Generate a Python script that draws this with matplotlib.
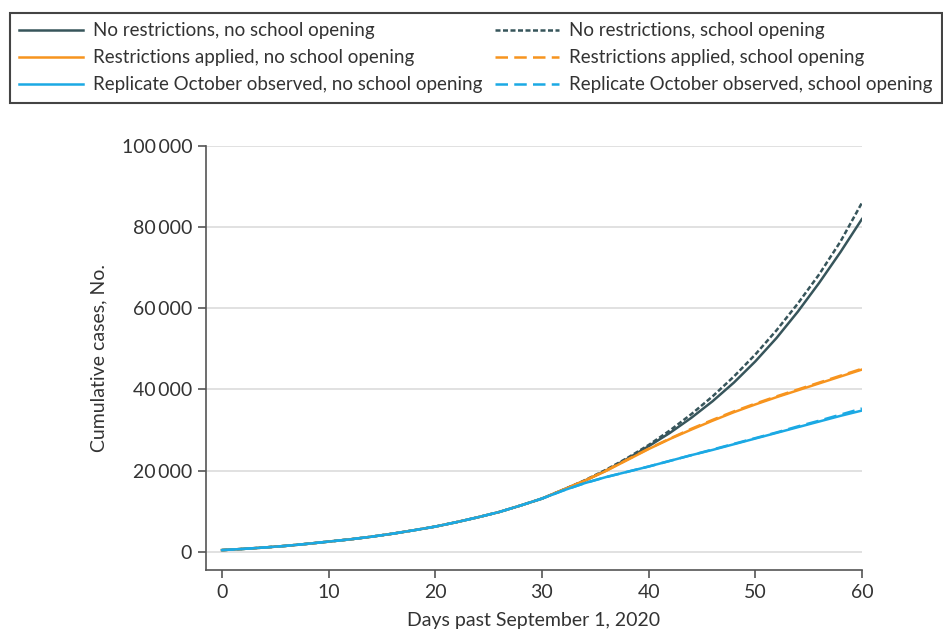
import matplotlib
matplotlib.use("Agg")
import matplotlib.pyplot as plt
from matplotlib.ticker import FuncFormatter

plt.rcParams['font.family'] = ['Lato', 'DejaVu Sans']

days = list(range(0, 61, 2))

# days 0-30, all scenarios share the same curve
shared = [400, 700, 1050, 1450, 1950, 2500, 3050, 3700, 4450, 5300,
          6200, 7300, 8500, 9800, 11400, 13100]

# days 32-60
none_no_school = [15300, 17500, 20000, 22900, 26000, 29300, 33000, 37100,
                  41700, 46900, 52700, 59200, 66300, 73900, 82000]
none_school = [15300, 17600, 20200, 23100, 26300, 29900, 33900, 38300,
               43200, 48600, 54600, 61200, 68400, 76500, 86000]
restr_no_school = [15300, 17500, 19900, 22600, 25300, 27800, 30100, 32300,
                   34400, 36300, 38100, 39800, 41500, 43200, 44900]
restr_school = [15300, 17500, 20000, 22700, 25400, 27900, 30300, 32500,
                34600, 36500, 38300, 40000, 41700, 43400, 45100]
oct_no_school = [15100, 16900, 18400, 19700, 21000, 22400, 23800, 25100,
                 26500, 27900, 29300, 30700, 32100, 33500, 34800]
oct_school = [15100, 16900, 18400, 19700, 21000, 22400, 23800, 25200,
              26600, 28000, 29400, 30900, 32300, 33800, 35300]

labels = ["No restrictions, no school opening",
          "Restrictions applied, no school opening",
          "Replicate October observed, no school opening",
          "No restrictions, school opening",
          "Restrictions applied, school opening",
          "Replicate October observed, school opening"]

dark = '#37555b'
orange = '#f7941e'
blue = '#1ba9e4'
text_col = '#333333'

fig = plt.figure(figsize=(9.43, 6.38), dpi=100)
ax = fig.add_axes([0.2185, 0.1066, 0.6955, 0.6645])

lw = 1.8
h1, = ax.plot(days, shared + none_no_school, color=dark, lw=lw)
h4, = ax.plot(days, shared + none_school, color=dark, lw=lw, dashes=(2.0, 1.0))
h2, = ax.plot(days, shared + restr_no_school, color=orange, lw=lw)
h5, = ax.plot(days, shared + restr_school, color=orange, lw=lw, dashes=(5, 2.5))
h3, = ax.plot(days, shared + oct_no_school, color=blue, lw=lw)
h6, = ax.plot(days, shared + oct_school, color=blue, lw=lw, dashes=(5, 2.5))

ax.set_xlim(-1.5, 60)
ax.set_ylim(-4500, 100000)
ax.set_xticks(range(0, 61, 10))
ax.set_yticks(range(0, 100001, 20000))
ax.yaxis.set_major_formatter(FuncFormatter(
    lambda v, p: "{:,}".format(int(v)).replace(",", "\u2009")))

ax.grid(axis='y', color='#dcdcdc', lw=1.2)
ax.set_axisbelow(True)
for s in ['top', 'right']:
    ax.spines[s].set_visible(False)
for s in ['left', 'bottom']:
    ax.spines[s].set_color('#555555')
    ax.spines[s].set_linewidth(1.2)
ax.tick_params(length=6, width=1.2, color='#555555', labelsize=14,
               labelcolor=text_col, pad=4)

ax.set_xlabel("Days past September 1, 2020", fontsize=14, color=text_col,
              labelpad=8)
ax.set_ylabel("Cumulative cases, No.", fontsize=14, color=text_col,
              labelpad=10)

leg = fig.legend([h1, h2, h3, h4, h5, h6], labels, ncol=2,
                 loc='upper left', bbox_to_anchor=(0.0106, 0.83, 0.9884, 0.1496),
                 mode='expand', borderaxespad=0, fontsize=13.5,
                 handlelength=3.4, handletextpad=0.55, labelspacing=0.53,
                 borderpad=0.5, fancybox=False, framealpha=1)
leg.get_frame().set_edgecolor('#444444')
leg.get_frame().set_linewidth(1.5)
for t in leg.get_texts():
    t.set_color(text_col)

fig.savefig("out.png", dpi=100)
